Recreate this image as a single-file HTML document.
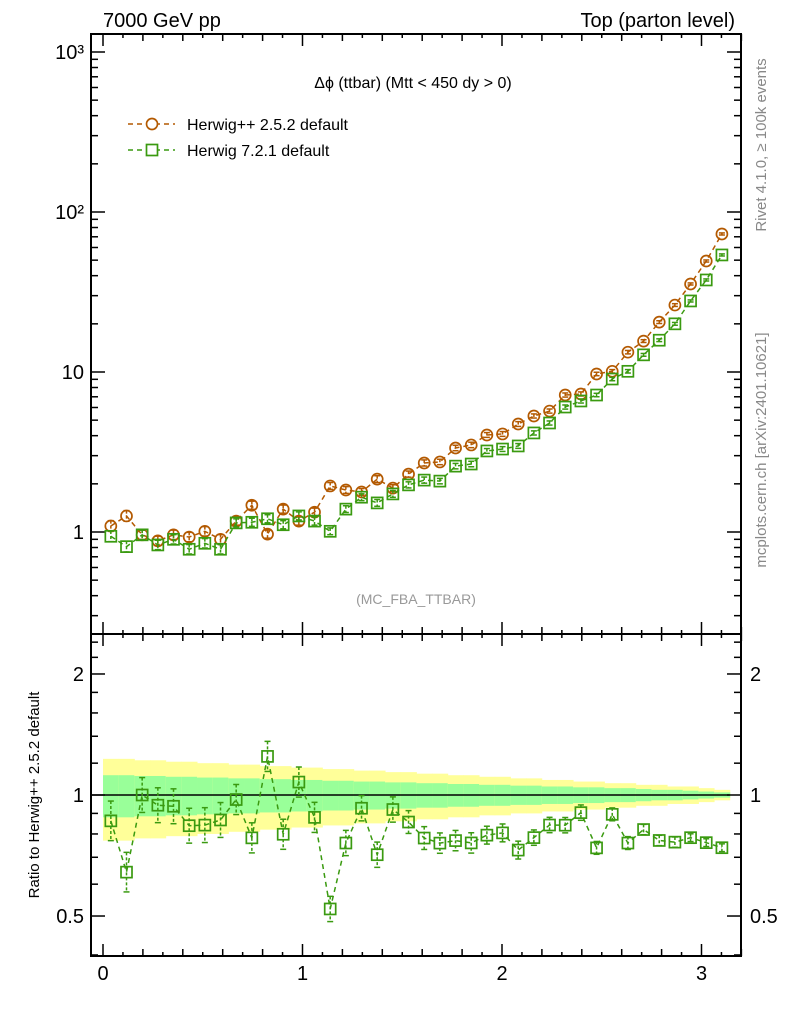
<!DOCTYPE html>
<html><head><meta charset="utf-8"><style>
body{margin:0;background:#fff;}
svg{display:block;font-family:"Liberation Sans",sans-serif;}
</style></head><body>
<svg id="c" width="786" height="1024" xmlns="http://www.w3.org/2000/svg"></svg>
<script>
const herwigpp=[1.09,1.26,0.96,0.88,0.96,0.93,1.01,0.90,1.17,1.47,0.97,1.39,1.17,1.33,1.94,1.83,1.78,2.14,1.88,2.30,2.70,2.74,3.35,3.50,4.04,4.10,4.73,5.31,5.70,7.18,7.29,9.72,10.1,13.3,15.6,20.5,26.2,35.5,49.4,72.9];
const herwig7=[0.94,0.81,0.96,0.83,0.90,0.78,0.85,0.78,1.14,1.15,1.21,1.11,1.26,1.17,1.01,1.39,1.65,1.52,1.73,1.97,2.11,2.08,2.58,2.66,3.21,3.30,3.45,4.16,4.80,6.04,6.59,7.18,9.04,10.1,12.8,15.8,20.0,27.8,37.6,53.9];
const relErr=[0.08,0.08,0.07,0.07,0.07,0.07,0.07,0.07,0.06,0.06,0.06,0.06,0.06,0.06,0.05,0.05,0.05,0.05,0.05,0.045,0.045,0.04,0.04,0.04,0.035,0.035,0.035,0.03,0.03,0.03,0.03,0.025,0.025,0.025,0.02,0.02,0.02,0.015,0.015,0.015];
const yellowBand=[0.23,0.23,0.22,0.22,0.21,0.21,0.2,0.2,0.19,0.19,0.18,0.18,0.17,0.17,0.16,0.16,0.15,0.15,0.14,0.14,0.13,0.13,0.12,0.12,0.11,0.11,0.1,0.1,0.09,0.09,0.08,0.08,0.07,0.07,0.06,0.06,0.05,0.05,0.04,0.03];
const greenBand=[0.12,0.12,0.115,0.115,0.11,0.11,0.105,0.105,0.1,0.1,0.095,0.095,0.09,0.09,0.085,0.085,0.08,0.08,0.075,0.075,0.07,0.07,0.065,0.065,0.06,0.06,0.055,0.055,0.05,0.05,0.045,0.045,0.04,0.04,0.035,0.03,0.03,0.025,0.02,0.015];
const xTicks=[0,1,2,3];
const mainTicks=[[1000,"10³"],[100,"10²"],[10,"10"],[1,"1"]];
const ratioTicks=[[2,"2"],[1,"1"],[0.5,"0.5"]];

const svg=document.getElementById('c');const NS="http://www.w3.org/2000/svg";
function el(t,a,p){const e=document.createElementNS(NS,t);for(const k in a)e.setAttribute(k,a[k]);(p||svg).appendChild(e);return e;}
const L=91,R=741,T=34,MB=634,RB=956;
const X=v=>103+199.5*v;
const Y=v=>532-160*Math.log10(v);
const YR=r=>795-402*Math.log10(r);
const N=herwigpp.length,w=Math.PI/N;
const cx=i=>(i+0.5)*w;
// bands
const gB=el('g',{});
for(let i=0;i<N;i++){
 const x0=X(i*w),x1=X((i+1)*w);
 const r1=el('rect',{x:x0,y:YR(1+yellowBand[i]),width:x1-x0+0.5,height:YR(1-yellowBand[i])-YR(1+yellowBand[i]),fill:'#ffff99'},gB);
 
 const r2=el('rect',{x:x0,y:YR(1+greenBand[i]),width:x1-x0+0.5,height:YR(1-greenBand[i])-YR(1+greenBand[i]),fill:'#99ff99'},gB);
 
}
const one=el('line',{x1:X(0)-12,x2:X(Math.PI),y1:YR(1),y2:YR(1),stroke:'#000','stroke-width':1.5});

// frames
for(const [t,b,n] of [[T,MB,'main-frame'],[MB,RB,'ratio-frame']]){
 const f=el('rect',{x:L,y:t,width:R-L,height:b-t,fill:'none',stroke:'#000','stroke-width':2});
 
}
// x ticks
const gx=el('g',{stroke:'#000','stroke-width':1.5});
for(let k=0;k<=32;k++){const v=k/10;const maj=k%10==0;const len=maj?12:(k%2==0?7:4);const x=X(v);
 for(const [y,d] of [[T,1],[MB,-1],[MB,1],[RB,-1]])el('line',{x1:x,x2:x,y1:y,y2:y+d*len},gx);}
for(const v of xTicks){const t=el('text',{x:X(v),y:980,'font-size':20,'text-anchor':'middle'});t.textContent=v;
 }
// main y ticks
const gy=el('g',{stroke:'#000','stroke-width':1.5});
for(let d=-1;d<=3;d++)for(let m=1;m<10;m++){const v=m*Math.pow(10,d);const y=Y(v);if(y<T||y>MB)continue;const len=m==1?14:7;
 el('line',{x1:L,x2:L+len,y1:y,y2:y},gy);el('line',{x1:R,x2:R-len,y1:y,y2:y},gy);}
for(const [v,s] of mainTicks){const t=el('text',{x:84,y:Y(v)+7,'font-size':20,'text-anchor':'end'});t.textContent=s;
 }
// ratio y ticks
for(const v of [0.4,0.5,0.6,0.7,0.8,0.9,1,2]){const y=YR(v);const len=(v==0.5||v==1||v==2)?14:7;
 el('line',{x1:L,x2:L+len,y1:y,y2:y},gy);el('line',{x1:R,x2:R-len,y1:y,y2:y},gy);}
for(const v of [1.2,1.4,1.6,1.8,2.2,2.4]){const y=YR(v);el('line',{x1:L,x2:L+7,y1:y,y2:y},gy);el('line',{x1:R,x2:R-7,y1:y,y2:y},gy);}
for(const [v,s] of ratioTicks){
 const t=el('text',{x:84,y:YR(v)+7,'font-size':20,'text-anchor':'end'});t.textContent=s;
 
 const t2=el('text',{x:750,y:YR(v)+7,'font-size':20});t2.textContent=s;
 }
// series
function series(vals,yf,col,shape,name,errs){
 const g=el('g',{});
 el('polyline',{points:vals.map((v,i)=>X(cx(i))+','+yf(v)).join(' '),fill:'none',stroke:col,'stroke-width':1.5,'stroke-dasharray':'5,4'},g);
 vals.forEach((v,i)=>{const x=X(cx(i)),y=yf(v);const e=errs[i];
  el('line',{x1:x,x2:x,y1:yf(v*(1+e)),y2:yf(v/(1+e)),stroke:col,'stroke-width':1.5,'stroke-dasharray':'3,2'},g);
  el('line',{x1:x-3,x2:x+3,y1:yf(v*(1+e)),y2:yf(v*(1+e)),stroke:col,'stroke-width':1.5},g);
  el('line',{x1:x-3,x2:x+3,y1:yf(v/(1+e)),y2:yf(v/(1+e)),stroke:col,'stroke-width':1.5},g);
  let m;
  if(shape=='c')m=el('circle',{cx:x,cy:y,r:5.5,fill:'none',stroke:col,'stroke-width':1.7},g);
  else m=el('rect',{x:x-5.5,y:y-5.5,width:11,height:11,fill:'none',stroke:col,'stroke-width':1.7},g);
  
 });
}
series(herwigpp,Y,'#b35900','c','herwigpp-series',relErr);
series(herwig7,Y,'#3a9a10','s','herwig7-series',relErr);
const ratio=herwig7.map((v,i)=>v/herwigpp[i]);
series(ratio,YR,'#3a9a10','s','ratio-series',relErr.map(e=>e*1.5));
// legend
function leg(y,col,shape,txt,nm){const g=el('g',{});
 el('line',{x1:128,x2:175,y1:y,y2:y,stroke:col,'stroke-width':1.5,'stroke-dasharray':'5,4'},g);
 if(shape=='c')el('circle',{cx:152,cy:y,r:5.5,fill:'#fff',stroke:col,'stroke-width':1.7},g);
 else el('rect',{x:146.5,y:y-5.5,width:11,height:11,fill:'#fff',stroke:col,'stroke-width':1.7},g);
 const t=el('text',{x:187,y:y+6,'font-size':16},g);t.textContent=txt;}
leg(124,'#b35900','c','Herwig++ 2.5.2 default','legend-entry-herwigpp');
leg(150,'#3a9a10','s','Herwig 7.2.1 default','legend-entry-herwig7');
function txt(x,y,s,a,n,extra){const t=el('text',Object.assign({x:x,y:y},a));t.textContent=s;return t;}
txt(103,27,'7000 GeV pp',{'font-size':20},'energy-label');
txt(735,27,'Top (parton level)',{'font-size':20,'text-anchor':'end'},'process-label');
txt(413,88,'Δϕ (ttbar) (Mtt < 450 dy > 0)',{'font-size':16,'text-anchor':'middle'},'plot-title');
txt(416,604,'(MC_FBA_TTBAR)',{'font-size':14,'text-anchor':'middle',fill:'#999'},'analysis-label');
txt(0,0,'Rivet 4.1.0, ≥ 100k events',{'font-size':15,fill:'#888','text-anchor':'middle',transform:'translate(766,145) rotate(-90)'},'rivet-label');
txt(0,0,'mcplots.cern.ch [arXiv:2401.10621]',{'font-size':15,fill:'#888','text-anchor':'middle',transform:'translate(766,450) rotate(-90)'},'mcplots-label');
txt(0,0,'Ratio to Herwig++ 2.5.2 default',{'font-size':15,'text-anchor':'middle',transform:'translate(39,795) rotate(-90)'},'ratio-y-axis-title');
</script>
</body></html>
